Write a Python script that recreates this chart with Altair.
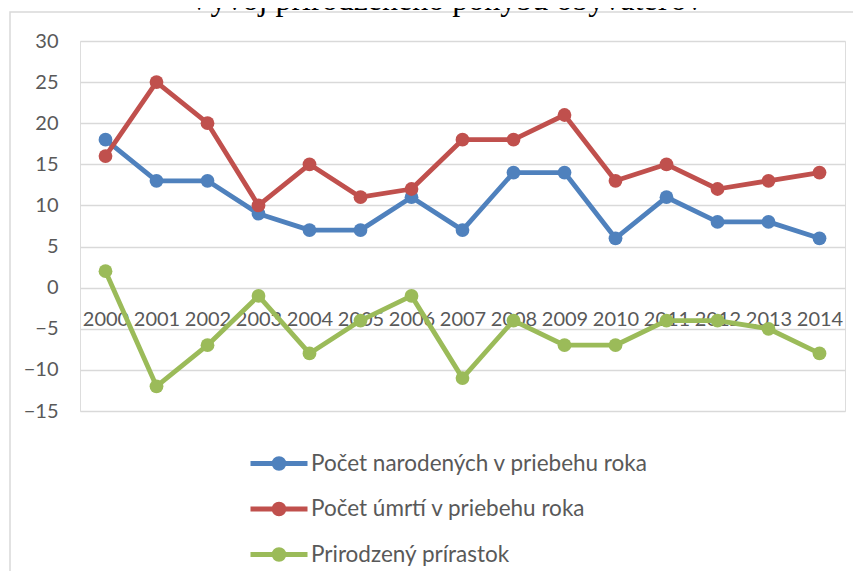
import altair as alt
import pandas as pd

title_text = "Vývoj prirodzeného pohybu obyvateľov"
years = ["2000", "2001", "2002", "2003", "2004", "2005", "2006", "2007",
         "2008", "2009", "2010", "2011", "2012", "2013", "2014"]
narodeni = [18, 13, 13, 9, 7, 7, 11, 7, 14, 14, 6, 11, 8, 8, 6]
umrti = [16, 25, 20, 10, 15, 11, 12, 18, 18, 21, 13, 15, 12, 13, 14]
prirastok = [2, -12, -7, -1, -8, -4, -1, -11, -4, -7, -7, -4, -4, -5, -8]
series_names = ["Počet narodených v priebehu roka",
                "Počet úmrtí v priebehu roka",
                "Prirodzený prírastok"]
colors = ["#4F81BD", "#C0504D", "#9BBB59"]
y_ticks = [-15, -10, -5, 0, 5, 10, 15, 20, 25, 30]

rows = []
for name, vals in zip(series_names, [narodeni, umrti, prirastok]):
    for yr, v in zip(years, vals):
        rows.append({"rok": yr, "hodnota": v, "séria": name})
df = pd.DataFrame(rows)

FONT = "Lato"
LABEL_COLOR = "#595959"
LEGEND_SYMBOL = "M-1.9,0L1.9,0M-0.32,0A0.32,0.32,0,1,0,0.32,0A0.32,0.32,0,1,0,-0.32,0Z"

x_enc = alt.X(
    "rok:N", sort=years, scale=alt.Scale(padding=0.5),
    axis=alt.Axis(title=None, domain=False, ticks=False, grid=False,
                  offset=-123.3, labelPadding=22, labelAngle=0,
                  labelOverlap=False, labelFont=FONT, labelFontSize=20,
                  labelColor=LABEL_COLOR),
)
y_enc = alt.Y(
    "hodnota:Q", scale=alt.Scale(domain=[-15, 30], nice=False, zero=False),
    axis=alt.Axis(title=None, values=y_ticks, domain=False, ticks=False,
                  grid=True, gridColor="#d9d9d9", gridWidth=1.5,
                  labelPadding=22, labelFont=FONT, labelFontSize=20,
                  labelColor=LABEL_COLOR),
)
color_enc = alt.Color(
    "séria:N", sort=series_names,
    scale=alt.Scale(domain=series_names, range=colors),
    legend=alt.Legend(orient="none", legendX=181.5, legendY=405,
                      direction="vertical", title=None,
                      symbolType=LEGEND_SYMBOL, symbolSize=900,
                      symbolStrokeWidth=5, labelFont=FONT, labelFontSize=22.5,
                      labelColor=LABEL_COLOR, labelOffset=14.5, rowPadding=12.5,
                      padding=0, labelLimit=0),
)

base = alt.Chart(df)
lines = base.mark_line(strokeWidth=4.8, strokeCap="round", strokeJoin="round").encode(
    x=x_enc, y=y_enc, color=color_enc)
points = base.mark_point(filled=True, size=190, opacity=1).encode(
    x=x_enc, y=y_enc, color=color_enc)

frame = alt.Chart(pd.DataFrame({"a": [0]})).mark_rect(
    fill="transparent", stroke="#d9d9d9", strokeWidth=1.5
).encode(x=alt.value(-70), x2=alt.value(900), y=alt.value(-29), y2=alt.value(700))

title = alt.Chart(pd.DataFrame({"t": [title_text]})).mark_text(
    font="Liberation Serif", fontSize=32, color="#000000",
    baseline="alphabetic", align="center"
).encode(text="t:N", x=alt.value(365), y=alt.value(-31))

chart = alt.layer(frame, title, lines, points).properties(
    width=765, height=370,
    autosize=alt.AutoSizeParams(type="none"),
    padding={"left": 72, "top": 33, "right": 8, "bottom": 160},
).configure_view(stroke=None).configure(background="white")

chart.save("out.html", embed_options={"renderer": "svg", "actions": False})
